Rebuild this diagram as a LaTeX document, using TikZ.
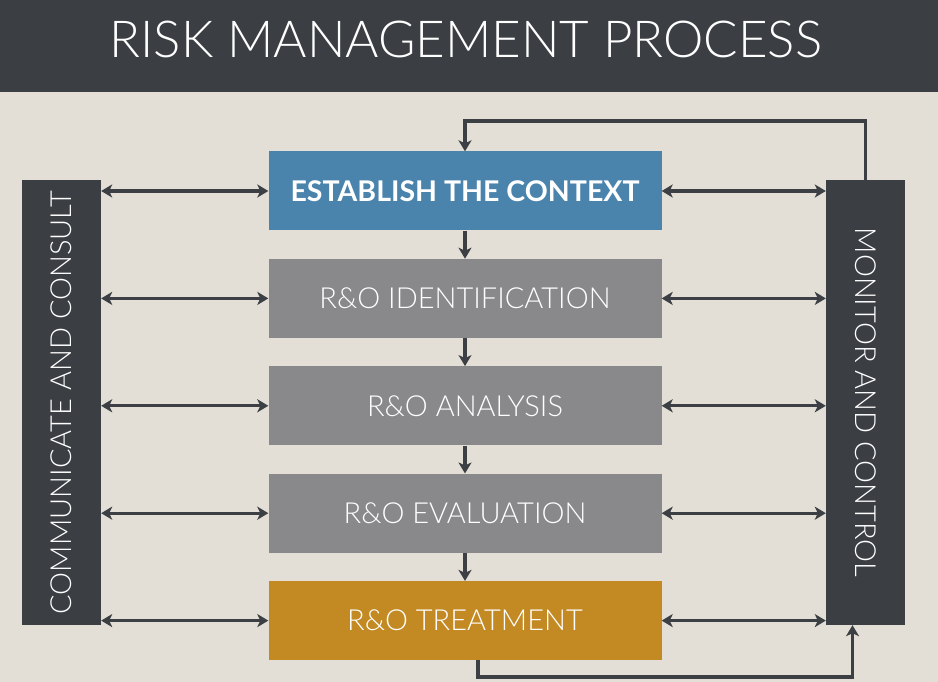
\documentclass[tikz,border=0pt]{standalone}
\usepackage{fontspec}
\setmainfont{Lato}[UprightFont=* Light,BoldFont=* Bold]
\usetikzlibrary{arrows.meta,positioning}
\definecolor{bardark}{HTML}{3B3E43}
\definecolor{paper}{HTML}{E4DFD6}
\definecolor{ctxblue}{HTML}{4A84AD}
\definecolor{stepgray}{HTML}{89898B}
\definecolor{treatgold}{HTML}{C38A24}
\definecolor{linedark}{HTML}{3C3F44}

\begin{document}
\begin{tikzpicture}[
      x=1pt,y=-1pt,
      stepbox/.style={
         rectangle,
         fill=stepgray,
         text=white,
         inner sep=0pt,
         minimum width=393pt,
         minimum height=79pt,
         font=\fontsize{29}{34}\selectfont},
      sidebar/.style={
         rectangle,
         fill=bardark,
         text=white,
         inner sep=0pt,
         minimum width=79pt,
         minimum height=445pt,
         font=\fontsize{29}{34}\selectfont},
      flow/.style={-{Stealth[length=11pt,width=13pt,inset=3pt]},line width=3.2pt,draw=linedark},
      both/.style={{Stealth[length=11pt,width=13pt,inset=3pt]}-{Stealth[length=11pt,width=13pt,inset=3pt]},line width=3.2pt,draw=linedark},
      node distance=28pt
      ]
      \useasboundingbox (0,0) rectangle (938,682);
      \fill[paper] (0,0) rectangle (938,682);
      \fill[bardark] (0,0) rectangle (938,92);
      \node[text=white,font=\fontsize{51}{60}\selectfont] (title) at (466,39) {RISK MANAGEMENT PROCESS};

      \node[stepbox,fill=ctxblue,font=\fontsize{28.5}{34}\selectfont\bfseries] (est) at (465,191) {ESTABLISH THE CONTEXT};
      \node[stepbox,below=of est] (ident) {R\&O IDENTIFICATION};
      \node[stepbox,below=of ident] (anal) {R\&O ANALYSIS};
      \node[stepbox,below=of anal] (eval) {R\&O EVALUATION};
      \node[stepbox,fill=treatgold,below=of eval] (treat) {R\&O TREATMENT};

      \node[sidebar] (comm) at (61.5,402.5) {\rotatebox{90}{COMMUNICATE AND CONSULT}};
      \node[sidebar] (mon) at (865.5,402.5) {\rotatebox{-90}{MONITOR AND CONTROL}};

    \foreach \i/\j in {est/ident, ident/anal, anal/eval, eval/treat}
       \draw [flow] (\i.south) -- (\j.north);

    \foreach \i in {est, ident, anal, eval, treat}{
       \draw [both] (comm.east |- \i.west) -- (\i.west);
       \draw [both] (\i.east) -- (mon.west |- \i.east);
    }

    % feedback loop
    \coordinate (looptop) at (465,121);
    \coordinate (loopbot) at (478,677);
    \coordinate (monin) at ([xshift=-13pt]mon.south);
    \draw [flow] (mon.north) -- (mon.north |- looptop) -| (est.north);
    \draw [flow] (treat.south -| loopbot) -- (loopbot) -| (monin);

    \end{tikzpicture}
\end{document}
